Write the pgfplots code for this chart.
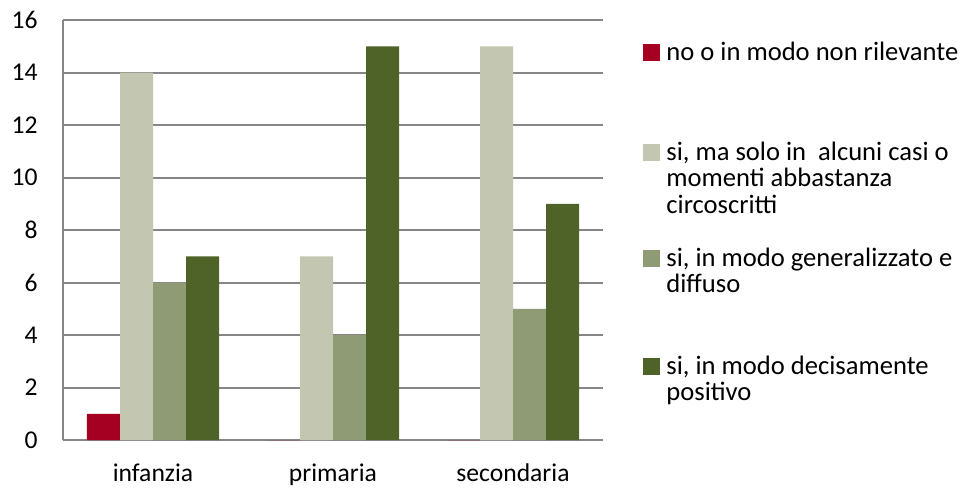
\documentclass[border=0pt]{standalone}
\usepackage{pgfplots}
\pgfplotsset{compat=1.18}
\usepackage{fontspec}
\setmainfont{Carlito}

\definecolor{cRed}{HTML}{A50021}
\definecolor{cLight}{HTML}{C3C7B1}
\definecolor{cMid}{HTML}{8F9B75}
\definecolor{cDark}{HTML}{4F6228}
\definecolor{gridgray}{HTML}{868686}

\newcommand{\chartfont}{\fontsize{12.8pt}{13.25pt}\selectfont}
\newcommand{\legfont}{\fontsize{13.3pt}{13.25pt}\selectfont}
\newcommand{\lent}[1]{\begin{tabular}[t]{@{}l@{}}#1\end{tabular}}

\begin{document}
\begin{tikzpicture}
\begin{axis}[
    name=ax,
    scale only axis,
    width=270pt, height=210pt,
    ybar=0pt,
    bar width=16.5pt,
    xmin=-0.5, xmax=2.5,
    ymin=0, ymax=16,
    ytick={0,2,...,16},
    xtick={0,1,2},
    xticklabels={infanzia,primaria,secondaria},
    axis x line*=bottom,
    axis y line*=left,
    axis line style={gridgray, line width=1pt, -},
    ymajorgrids,
    major grid style={gridgray, line width=1pt},
    major tick length=0pt,
    /pgf/number format/assume math mode=true,
    tick label style={font=\chartfont, text=black},
    yticklabel style={anchor=east, inner sep=0pt, xshift=-12.5pt},
    xticklabel style={anchor=north, inner sep=0pt, yshift=-11.5pt},
    every axis plot post/.append style={
        legend image code/.code={\fill[##1] (0pt,-0.5pt) rectangle (8.5pt,8pt);}},
    legend style={
        at={(1,1)}, anchor=north west,
        xshift=20pt, yshift=-10.5pt,
        draw=none, fill=none, inner sep=0pt,
        row sep=0pt,
        font=\legfont,
        cells={anchor=base west},
        nodes={inner ysep=0pt, inner xsep=3pt, text height=9.5pt},
    },
]
\addplot[fill=cRed, draw=none] coordinates {(0,1) (1,0) (2,0)};
\addlegendentry[text depth=40.5pt]{no o in modo non rilevante}
\addplot[fill=cLight, draw=none] coordinates {(0,14) (1,7) (2,15)};
\addlegendentry[text depth=43.5pt]{\lent{si, ma solo in\ \ alcuni casi o\\momenti abbastanza\\circoscritti}}
\addplot[fill=cMid, draw=none] coordinates {(0,6) (1,4) (2,5)};
\addlegendentry[text depth=44.5pt]{\lent{si, in modo generalizzato e\\diffuso}}
\addplot[fill=cDark, draw=none] coordinates {(0,7) (1,15) (2,9)};
\addlegendentry[text depth=16.25pt]{\lent{si, in modo decisamente\\positivo}}
\end{axis}
\pgfresetboundingbox
\path[use as bounding box] ([xshift=-31.5pt,yshift=-24pt]ax.south west) rectangle ([xshift=179pt,yshift=10pt]ax.north east);
\end{tikzpicture}
\end{document}
